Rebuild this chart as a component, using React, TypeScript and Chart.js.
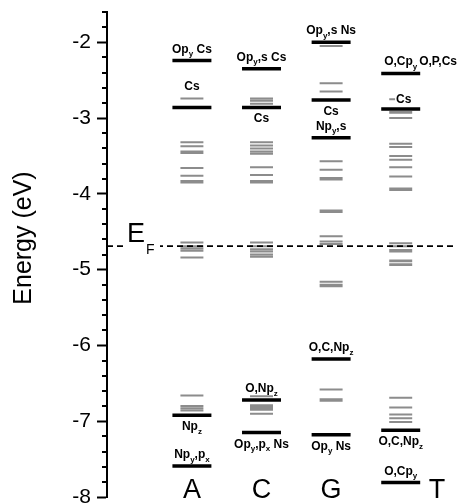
import React, { useEffect, useRef } from 'react';
import { Chart, registerables } from 'chart.js';

Chart.register(...registerables);

// ---- data ----
const categories = ['A', 'C', 'G', 'T'];
const fermiLevel = -4.69;
const yTickValues = [-8, -7, -6, -5, -4, -3, -2];

const blackA = [-2.24, -2.86, -6.92, -7.59];
const blackC = [-2.35, -2.86, -6.72, -7.15];
const blackG = [-2.0, -2.76, -3.26, -6.18, -7.18];
const blackT = [-2.41, -2.88, -7.12, -7.81];

const grayA = [-2.74, -3.32, -3.37, -3.44, -3.46, -3.66, -3.76, -3.83, -3.85,
  -4.64, -4.69, -4.72, -4.75, -4.84, -6.66, -6.8, -6.83, -6.86];
const grayC = [-2.74, -2.77, -2.81, -3.32, -3.36, -3.4, -3.44, -3.47, -3.65, -3.75, -3.83, -3.85,
  -4.64, -4.69, -4.73, -4.76, -4.8, -4.83, -6.67, -6.79, -6.81, -6.83, -6.85, -6.9];
const grayG = [-2.05, -2.54, -2.65, -3.57, -3.68, -3.79, -3.81, -4.22, -4.24,
  -4.56, -4.63, -4.66, -5.16, -5.2, -5.22, -6.58, -6.71, -6.73];
const grayT = [-2.75, -2.92, -2.93, -3.0, -3.34, -3.38, -3.5, -3.55, -3.65, -3.77, -3.93, -3.95,
  -4.65, -4.69, -4.74, -4.76, -4.88, -4.89, -4.93, -4.94, -6.69, -6.82, -6.91, -6.96, -7.01];

const blackLevels = [blackA, blackC, blackG, blackT];
const grayLevels = [grayA, grayC, grayG, grayT];

// [column index, level energy, text ("_x" = subscript x), placement]
const levelLabels: [number, number, string, string][] = [
  [0, -2.24, 'Op_y Cs', 'above'],
  [0, -2.74, 'Cs', 'above'],
  [0, -6.92, 'Np_z', 'below'],
  [0, -7.59, 'Np_y,p_x', 'above'],
  [1, -2.35, 'Op_y,s Cs', 'above'],
  [1, -2.86, 'Cs', 'below'],
  [1, -6.72, 'O,Np_z', 'above'],
  [1, -7.15, 'Op_y,p_x Ns', 'below'],
  [2, -2.0, 'Op_y,s Ns', 'above'],
  [2, -2.76, 'Cs', 'below'],
  [2, -3.26, 'Np_y,s', 'above'],
  [2, -6.18, 'O,C,Np_z', 'above'],
  [2, -7.18, 'Op_y Ns', 'below'],
  [3, -2.41, 'O,Cp_y', 'above'],
  [3, -2.41, 'O,P,Cs', 'right'],
  [3, -2.75, 'Cs', 'on'],
  [3, -7.12, 'O,C,Np_z', 'below'],
  [3, -7.81, 'O,Cp_y', 'above'],
];

// ---- layout constants ----
const X_MIN = -0.22;
const X_MAX = 4.78;
const BLACK_HALF = 0.28;
const GRAY_HALF = 0.165;
const CAT_SHIFT = [0, 0, 0, 0.52];
const FONT = '"Liberation Sans", Arial, Helvetica, sans-serif';
const LABEL_SIZE = 12;

function segmentsFor(levels: number[], center: number, half: number) {
  const pts: { x: number; y: number | null }[] = [];
  levels.forEach((v) => {
    pts.push({ x: center - half, y: v });
    pts.push({ x: center + half, y: v });
    pts.push({ x: center + half, y: null });
  });
  return pts;
}

function parseRich(text: string) {
  const segs: { t: string; sub: boolean }[] = [];
  for (let i = 0; i < text.length; i++) {
    const ch = text[i];
    if (ch === '_' && i + 1 < text.length) {
      segs.push({ t: text[i + 1], sub: true });
      i++;
    } else {
      const last = segs[segs.length - 1];
      if (last && !last.sub) last.t += ch;
      else segs.push({ t: ch, sub: false });
    }
  }
  return segs;
}

function drawRich(ctx: CanvasRenderingContext2D, text: string, x: number, y: number, align: string, size: number, bg: boolean) {
  const segs = parseRich(text);
  const mainFont = `bold ${size}px ${FONT}`;
  const subFont = `bold ${Math.round(size * 0.68)}px ${FONT}`;
  let total = 0;
  const widths = segs.map((s) => {
    ctx.font = s.sub ? subFont : mainFont;
    const w = ctx.measureText(s.t).width;
    total += w;
    return w;
  });
  let cx = align === 'center' ? x - total / 2 : align === 'right' ? x - total : x;
  if (bg) {
    ctx.fillStyle = '#fff';
    ctx.fillRect(cx - 1, y - size * 0.8, total + 6, size);
  }
  ctx.fillStyle = '#000';
  ctx.textAlign = 'left';
  ctx.textBaseline = 'alphabetic';
  segs.forEach((s, i) => {
    ctx.font = s.sub ? subFont : mainFont;
    ctx.fillText(s.t, cx, s.sub ? y + size * 0.3 : y);
    cx += widths[i];
  });
}

const annotations = {
  id: 'annotations',
  afterDraw(chart: any) {
    const ctx: CanvasRenderingContext2D = chart.ctx;
    const xs = chart.scales.x;
    const ys = chart.scales.y;
    const area = chart.chartArea;
    ctx.save();

    // minor ticks
    ctx.strokeStyle = '#000';
    ctx.lineWidth = 2;
    for (let k = 0; k <= 32; k++) {
      const v = -8 + k * 0.2;
      if (Math.abs(v - Math.round(v)) < 1e-6) continue;
      const py = Math.round(ys.getPixelForValue(v));
      ctx.beginPath();
      ctx.moveTo(area.left - 5, py);
      ctx.lineTo(area.left, py);
      ctx.stroke();
    }

    // y title
    ctx.save();
    ctx.translate(24, 238);
    ctx.rotate(-Math.PI / 2);
    ctx.font = `25px ${FONT}`;
    ctx.fillStyle = '#000';
    ctx.textAlign = 'center';
    ctx.textBaseline = 'middle';
    ctx.fillText('Energy (eV)', 0, 0);
    ctx.restore();

    // E_F label
    const yEF = ys.getPixelForValue(fermiLevel);
    ctx.fillStyle = '#fff';
    ctx.fillRect(area.left + 18, yEF - 3, 35, 6);
    ctx.fillStyle = '#000';
    ctx.textAlign = 'left';
    ctx.textBaseline = 'alphabetic';
    ctx.font = `27px ${FONT}`;
    ctx.fillText('E', area.left + 20, yEF - 4);
    const ew = ctx.measureText('E').width;
    ctx.font = `14px ${FONT}`;
    ctx.fillText('F', area.left + 21 + ew, yEF + 8);

    // level labels
    levelLabels.forEach(([col, v, text, side]) => {
      const cxp = xs.getPixelForValue(col + 1);
      const py = ys.getPixelForValue(v);
      if (side === 'above') drawRich(ctx, text, cxp, py - 8, 'center', LABEL_SIZE, false);
      else if (side === 'below') drawRich(ctx, text, cxp, py + 15, 'center', LABEL_SIZE, false);
      else if (side === 'on') drawRich(ctx, text, cxp + 3, py + 4, 'center', LABEL_SIZE, true);
      else if (side === 'right') drawRich(ctx, text, area.right + 2, py - 8, 'right', LABEL_SIZE, false);
    });

    // category labels
    ctx.font = `27px ${FONT}`;
    ctx.fillStyle = '#000';
    ctx.textAlign = 'center';
    ctx.textBaseline = 'alphabetic';
    categories.forEach((c, i) => {
      ctx.fillText(c, xs.getPixelForValue(i + 1 + CAT_SHIFT[i]), area.bottom + 1);
    });

    ctx.restore();
  },
};

export default function App() {
  const ref = useRef<HTMLCanvasElement | null>(null);
  useEffect(() => {
    if (!ref.current) return;
    const datasets: any[] = [];
    datasets.push({
      data: [{ x: X_MIN, y: fermiLevel }, { x: X_MAX, y: fermiLevel }],
      borderColor: '#000',
      borderWidth: 1.6,
      borderDash: [6, 4],
      pointRadius: 0,
      order: -1,
    });
    grayLevels.forEach((lv, i) => {
      datasets.push({
        data: segmentsFor(lv, i + 1, GRAY_HALF),
        borderColor: '#8c8c8c',
        borderWidth: 2,
        borderCapStyle: 'butt',
        pointRadius: 0,
        spanGaps: false,
        order: 2,
      });
    });
    blackLevels.forEach((lv, i) => {
      datasets.push({
        data: segmentsFor(lv, i + 1, BLACK_HALF),
        borderColor: '#000',
        borderWidth: 3.5,
        borderCapStyle: 'butt',
        pointRadius: 0,
        spanGaps: false,
        order: 1,
      });
    });

    const chart = new Chart(ref.current, {
      type: 'line',
      data: { datasets },
      plugins: [annotations],
      options: {
        animation: false,
        responsive: false,
        plugins: { legend: { display: false }, tooltip: { enabled: false } },
        layout: { padding: { top: 12, right: 4, bottom: 7, left: 0 } },
        scales: {
          x: { type: 'linear', min: X_MIN, max: X_MAX, display: false },
          y: {
            type: 'linear',
            min: -8,
            max: -1.6,
            afterBuildTicks: (s: any) => {
              s.ticks = yTickValues.map((v) => ({ value: v }));
            },
            afterFit: (s: any) => {
              s.width = 107;
              s.paddingTop = 0;
              s.paddingBottom = 0;
            },
            ticks: {
              color: '#000',
              padding: 6,
              font: { size: 21, family: FONT },
              callback: (v: any) => String(v),
            },
            grid: {
              drawOnChartArea: false,
              tickLength: 10,
              tickWidth: 2,
              tickColor: '#000',
            },
            border: { display: true, color: '#000', width: 2 },
          },
        },
      } as any,
    });
    return () => chart.destroy();
  }, []);

  return (
    <div style={{ position: 'fixed', left: 0, top: 0, width: 459, height: 504, background: '#fff' }}>
      <canvas ref={ref} width={459} height={504} />
    </div>
  );
}
